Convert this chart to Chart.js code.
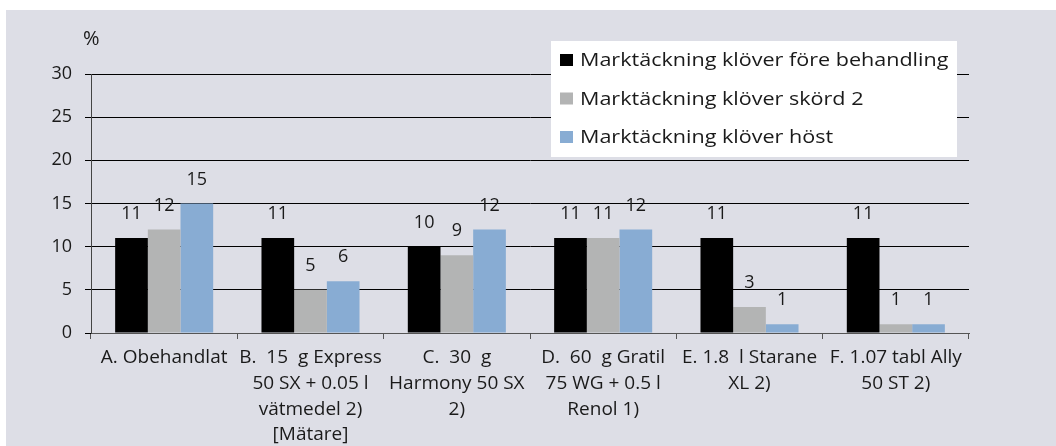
<!DOCTYPE html>
<html>
<head>
<meta charset="utf-8">
<script src="https://cdn.jsdelivr.net/npm/chart.js@4/dist/chart.umd.min.js"></script>
<style>
  html, body { margin: 0; padding: 0; background: #fff; }
</style>
</head>
<body>
<canvas id="chart" width="1056" height="446"></canvas>
<script>
// Data
const categories = [
  "A. Obehandlat",
  ["B.  15  g Express", "50 SX + 0.05 l", "vätmedel 2)", "[Mätare]"],
  ["C.  30  g", "Harmony 50 SX", "2)"],
  ["D.  60  g Gratil", "75 WG + 0.5 l", "Renol 1)"],
  ["E. 1.8  l Starane", "XL 2)"],
  ["F. 1.07 tabl Ally", "50 ST 2)"]
];
const seriesNames = [
  "Marktäckning klöver före behandling",
  "Marktäckning klöver skörd 2",
  "Marktäckning klöver höst"
];
const beforeValues = [11, 11, 10, 11, 11, 11];
const harvest2Values = [12, 5, 9, 11, 3, 1];
const autumnValues = [15, 6, 12, 12, 1, 1];
const yMin = 0;
const yMax = 30;
const yStep = 5;
const unitLabel = "%";

const colors = ["#000000", "#b3b4b4", "#88acd3"];
const FONT = "'Open Sans', 'Noto Sans', sans-serif";
const TEXT = "#1a1a1a";

// Gray panel behind the chart
const panelPlugin = {
  id: "panel",
  beforeDraw: (chart) => {
    const { ctx, width, height } = chart;
    ctx.save();
    ctx.fillStyle = "#ffffff";
    ctx.fillRect(0, 0, width, height);
    ctx.fillStyle = "#dddee6";
    ctx.fillRect(6, 10, width - 6, height - 10);
    ctx.restore();
  },
};

// Value above each bar
const valueLabelPlugin = {
  id: "valueLabels",
  afterDatasetsDraw: (chart) => {
    const { ctx } = chart;
    ctx.save();
    ctx.font = "18px " + FONT;
    ctx.fillStyle = TEXT;
    ctx.textAlign = "center";
    ctx.textBaseline = "middle";
    chart.data.datasets.forEach((ds, i) => {
      chart.getDatasetMeta(i).data.forEach((bar, j) => {
        ctx.fillText(String(ds.data[j]), bar.x, bar.y - 24);
      });
    });
    ctx.restore();
  },
};

// Boxed legend in the top right + unit label
const boxLegendPlugin = {
  id: "boxLegend",
  afterDraw: (chart) => {
    const { ctx, chartArea } = chart;
    ctx.save();
    ctx.font = "20px " + FONT;
    ctx.fillStyle = TEXT;
    ctx.textBaseline = "alphabetic";
    ctx.textAlign = "left";
    ctx.fillText(unitLabel, chartArea.left - 8, 45);

    const boxX = 551, boxY = 41, boxW = 406, boxH = 116;
    ctx.fillStyle = "#ffffff";
    ctx.fillRect(boxX, boxY, boxW, boxH);
    ctx.font = "18.5px " + FONT;
    ctx.textBaseline = "middle";
    chart.data.datasets.forEach((ds, i) => {
      const cy = boxY + 19 + i * 38.5;
      ctx.fillStyle = ds.backgroundColor;
      ctx.fillRect(boxX + 9, cy - 6, 13, 12);
      ctx.fillStyle = TEXT;
      // the legend text in the original runs wide, so stretch it a little
      ctx.save();
      ctx.translate(boxX + 29, cy + 1);
      ctx.scale(1.165, 1);
      ctx.fillText(ds.label, 0, 0);
      ctx.restore();
    });
    ctx.restore();
  },
};

const ctx = document.getElementById("chart").getContext("2d");

new Chart(ctx, {
  type: "bar",
  data: {
    labels: categories,
    datasets: [
      { label: seriesNames[0], data: beforeValues, backgroundColor: colors[0] },
      { label: seriesNames[1], data: harvest2Values, backgroundColor: colors[1] },
      { label: seriesNames[2], data: autumnValues, backgroundColor: colors[2] },
    ],
  },
  options: {
    responsive: false,
    devicePixelRatio: 1,
    animation: false,
    layout: { padding: { left: 0, top: 74, right: 87, bottom: 0 } },
    datasets: {
      bar: { categoryPercentage: 0.67, barPercentage: 1.0, borderWidth: 0 },
    },
    plugins: {
      legend: { display: false },
      tooltip: { enabled: false },
    },
    scales: {
      x: {
        afterFit: (scale) => { scale.height = 113; },
        grid: {
          display: true,
          drawOnChartArea: false,
          drawTicks: true,
          tickLength: 6,
          color: "#555555",
          offset: true,
        },
        border: { display: true, color: "#555555", width: 1 },
        ticks: {
          font: { family: FONT, size: 19, lineHeight: 1.35 },
          color: TEXT,
          maxRotation: 0,
          autoSkip: false,
          padding: 6,
        },
      },
      y: {
        min: yMin,
        max: yMax,
        afterFit: (scale) => { scale.width = 91; },
        grid: {
          color: "#000000",
          lineWidth: 1,
          drawTicks: true,
          tickLength: 6,
        },
        border: { display: true, color: "#444444", width: 1 },
        ticks: {
          stepSize: yStep,
          font: { family: FONT, size: 18 },
          color: TEXT,
          padding: 13,
        },
      },
    },
  },
  plugins: [panelPlugin, valueLabelPlugin, boxLegendPlugin],
});
</script>
</body>
</html>
